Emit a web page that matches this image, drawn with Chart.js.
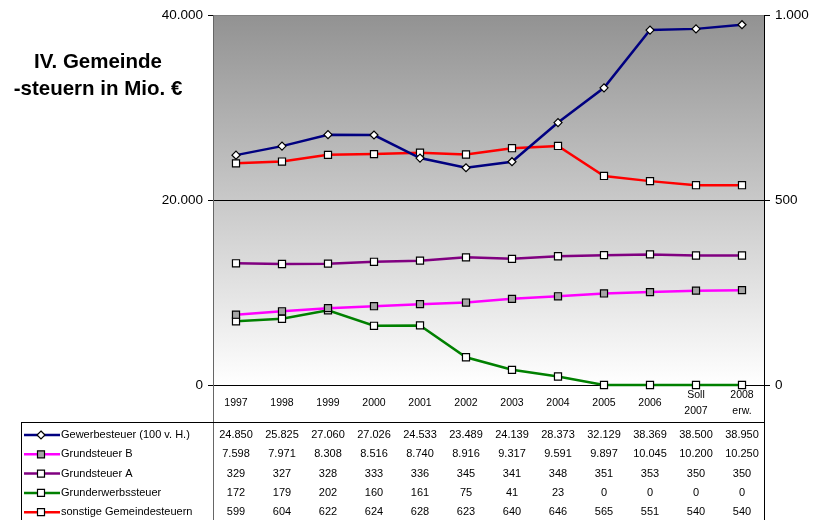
<!DOCTYPE html>
<html>
<head>
<meta charset="utf-8">
<script src="https://cdn.jsdelivr.net/npm/chart.js@4"></script>
<style>
  body { margin: 0; background: #fff; }
  #chart { display: block; }
</style>
</head>
<body>
<canvas id="chart" width="814" height="520"></canvas>
<script>
// data
var years = ['1997', '1998', '1999', '2000', '2001', '2002', '2003', '2004', '2005', '2006', ['Soll', '2007'], ['2008', 'erw.']];
var gewerbesteuer = [24850, 25825, 27060, 27026, 24533, 23489, 24139, 28373, 32129, 38369, 38500, 38950];
var grundsteuerB = [7598, 7971, 8308, 8516, 8740, 8916, 9317, 9591, 9897, 10045, 10200, 10250];
var grundsteuerA = [329, 327, 328, 333, 336, 345, 341, 348, 351, 353, 350, 350];
var grunderwerb = [172, 179, 202, 160, 161, 75, 41, 23, 0, 0, 0, 0];
var sonstige = [599, 604, 622, 624, 628, 623, 640, 646, 565, 551, 540, 540];
var leftTicks = [0, 20000, 40000];
var rightTicks = [0, 500, 1000];
var titleLines = ['IV. Gemeinde', '-steuern in Mio. €'];

var FONT = '"Liberation Sans", Arial, sans-serif';

function fmt(n) {
  return String(n).replace(/\B(?=(\d{3})+(?!\d))/g, '.');
}

function series(label, data, color, axis, style, fill) {
  return {
    label: label,
    data: data,
    yAxisID: axis,
    borderColor: color,
    backgroundColor: color,
    borderWidth: 2.5,
    pointStyle: style,
    pointRadius: style === 'rectRot' ? 4 : 5,
    pointBackgroundColor: fill,
    pointBorderColor: '#000',
    pointBorderWidth: 1.2,
    tension: 0,
    clip: false
  };
}

var datasets = [
  series('Gewerbesteuer (100 v. H.)', gewerbesteuer, '#000080', 'y', 'rectRot', '#fff'),
  series('Grundsteuer B', grundsteuerB, '#ff00ff', 'y', 'rect', '#a6a6a6'),
  series('Grundsteuer A', grundsteuerA, '#800080', 'y2', 'rect', '#fff'),
  series('Grunderwerbssteuer', grunderwerb, '#008000', 'y2', 'rect', '#fff'),
  series('sonstige Gemeindesteuern', sonstige, '#ff0000', 'y2', 'rect', '#fff')
];

var decor = {
  id: 'decor',
  beforeDatasetsDraw: function(chart) {
  },
  beforeDraw: function(chart) {
    var ctx = chart.ctx, a = chart.chartArea;
    var g = ctx.createLinearGradient(0, a.top, 0, a.bottom);
    g.addColorStop(0, '#929292');
    g.addColorStop(1, '#ffffff');
    ctx.save();
    ctx.fillStyle = g;
    ctx.fillRect(a.left, a.top, a.right - a.left, a.bottom - a.top);
    ctx.restore();
  },
  afterDraw: function(chart) {
    var ctx = chart.ctx, a = chart.chartArea, x = chart.scales.x;
    ctx.save();

    // title
    ctx.fillStyle = '#000';
    ctx.font = 'bold 20.5px ' + FONT;
    ctx.textAlign = 'center';
    ctx.textBaseline = 'alphabetic';
    ctx.fillText(titleLines[0], 98, 68);
    ctx.fillText(titleLines[1], 98, 95);

    // frame lines carried down through the table
    ctx.lineWidth = 1;
    ctx.strokeStyle = '#808080';
    ctx.beginPath();
    ctx.moveTo(a.left, a.top + 0.5);
    ctx.lineTo(a.right, a.top + 0.5);
    ctx.stroke();
    ctx.strokeStyle = '#666';
    ctx.beginPath();
    ctx.moveTo(a.left + 0.5, a.top);
    ctx.lineTo(a.left + 0.5, 520);
    ctx.stroke();
    ctx.strokeStyle = '#000';
    ctx.beginPath();
    ctx.moveTo(a.right - 0.5, a.top);
    ctx.lineTo(a.right - 0.5, 520);
    ctx.stroke();

    var tableTop = 422;
    ctx.beginPath();
    ctx.moveTo(21, tableTop + 0.5);
    ctx.lineTo(a.right, tableTop + 0.5);
    ctx.moveTo(21.5, tableTop);
    ctx.lineTo(21.5, 520);
    ctx.stroke();

    // year labels
    ctx.font = '10.5px ' + FONT;
    ctx.textBaseline = 'middle';
    ctx.textAlign = 'center';
    years.forEach(function(y, i) {
      var px = x.getPixelForValue(i);
      if (Array.isArray(y)) {
        ctx.fillText(y[0], px, 395);
        ctx.fillText(y[1], px, 411);
      } else {
        ctx.fillText(y, px, 403);
      }
    });

    // data table with legend keys
    ctx.font = '11px ' + FONT;
    datasets.forEach(function(ds, r) {
      var ry = 435 + r * 19.3;
      ctx.strokeStyle = ds.borderColor;
      ctx.lineWidth = 2.5;
      ctx.beginPath();
      ctx.moveTo(24, ry);
      ctx.lineTo(60, ry);
      ctx.stroke();
      ctx.fillStyle = ds.pointBackgroundColor;
      ctx.strokeStyle = '#000';
      ctx.lineWidth = 1.2;
      ctx.beginPath();
      if (ds.pointStyle === 'rectRot') {
        ctx.moveTo(41, ry - 4);
        ctx.lineTo(45, ry);
        ctx.lineTo(41, ry + 4);
        ctx.lineTo(37, ry);
        ctx.closePath();
      } else {
        ctx.rect(37.5, ry - 3.5, 7, 7);
      }
      ctx.fill();
      ctx.stroke();

      ctx.fillStyle = '#000';
      ctx.textAlign = 'left';
      ctx.fillText(ds.label, 61, ry);
      ctx.textAlign = 'center';
      ds.data.forEach(function(v, i) {
        ctx.fillText(fmt(v), x.getPixelForValue(i), ry);
      });
    });
    ctx.restore();
  }
};

new Chart(document.getElementById('chart'), {
  type: 'line',
  data: { labels: years, datasets: datasets },
  plugins: [decor],
  options: {
    responsive: false,
    animation: false,
    layout: { padding: { left: 0, right: 0, top: 15, bottom: 135 } },
    plugins: { legend: { display: false }, tooltip: { enabled: false } },
    scales: {
      x: {
        display: false,
        offset: true
      },
      y: {
        position: 'left',
        min: 0,
        max: 40000,
        afterFit: function(s) { s.width = 213; },
        afterBuildTicks: function(s) { s.ticks = leftTicks.map(function(v) { return { value: v }; }); },
        border: { display: false },
        grid: {
          color: function(c) { return c.tick && c.tick.value === 40000 ? 'rgba(0,0,0,0)' : '#000'; },
          tickColor: '#000',
          tickLength: 5,
          lineWidth: 1
        },
        ticks: {
          padding: 5,
          color: '#000',
          font: { family: FONT, size: 13.5 },
          callback: function(v) { return fmt(v); }
        }
      },
      y2: {
        position: 'right',
        min: 0,
        max: 1000,
        afterFit: function(s) { s.width = 49; },
        afterBuildTicks: function(s) { s.ticks = rightTicks.map(function(v) { return { value: v }; }); },
        border: { display: false },
        grid: {
          drawOnChartArea: false,
          tickColor: '#000',
          tickLength: 5
        },
        ticks: {
          padding: 5,
          color: '#000',
          font: { family: FONT, size: 13.5 },
          callback: function(v) { return fmt(v); }
        }
      }
    }
  }
});
</script>
</body>
</html>
